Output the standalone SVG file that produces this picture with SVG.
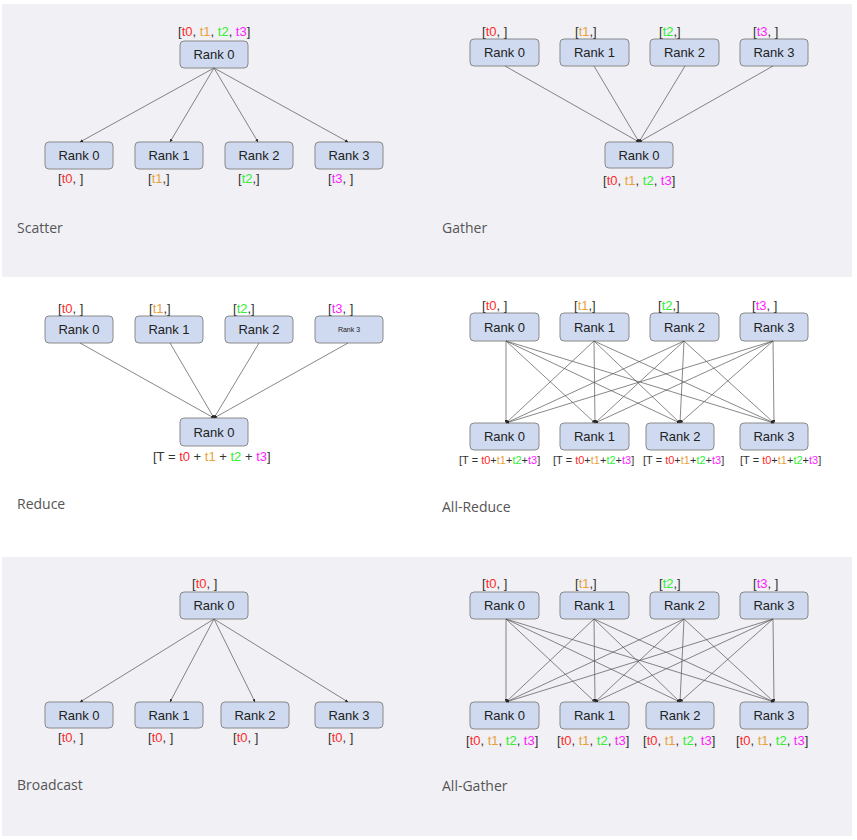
<svg xmlns="http://www.w3.org/2000/svg" width="857" height="840" viewBox="0 0 857 840">
  <defs>
    <style>
      .panel { fill: #f0f0f5; }
      .box rect { fill: #cfdaf0; stroke: #8a8a8a; stroke-width: 1; }
      .box text { font-family: "Liberation Sans", Arial, sans-serif; font-size: 13px; fill: #222; text-anchor: middle; }
      .box text.tiny { font-size: 7px; }
      .lbl { font-family: "Liberation Sans", Arial, sans-serif; font-size: 13px; fill: #333; }
      .lbl.sm { font-size: 11px; }
      .c0 { fill: #ff2b2b; }
      .c1 { fill: #e9a23b; }
      .c2 { fill: #33ee33; }
      .c3 { fill: #ff22ff; }
      .title { font-family: "Open Sans", "DejaVu Sans", sans-serif; font-size: 14px; fill: #555; }
      .edges line { stroke: #555; stroke-width: 0.7; marker-end: url(#tip); }
    </style>
    <marker id="tip" viewBox="0 0 6 6" refX="6" refY="3" markerWidth="3" markerHeight="3" markerUnits="userSpaceOnUse" orient="auto">
      <path d="M0,0 L6,3 L0,6 Z" fill="#222"/>
    </marker>
  </defs>

  <!-- section backgrounds -->
  <rect class="panel" x="2" y="4" width="850" height="273"/>
  <rect class="panel" x="2" y="557" width="850" height="279"/>

  <!-- ===================== Scatter ===================== -->
  <g id="scatter-root" class="box"><rect x="180" y="41" width="68" height="27" rx="4"/><text x="214" y="59">Rank 0</text></g>
  <g id="scatter-r0" class="box"><rect x="45" y="142" width="68" height="27" rx="4"/><text x="79" y="160">Rank 0</text></g>
  <g id="scatter-r1" class="box"><rect x="135" y="142" width="68" height="27" rx="4"/><text x="169" y="160">Rank 1</text></g>
  <g id="scatter-r2" class="box"><rect x="225" y="142" width="68" height="27" rx="4"/><text x="259" y="160">Rank 2</text></g>
  <g id="scatter-r3" class="box"><rect x="315" y="142" width="68" height="27" rx="4"/><text x="349" y="160">Rank 3</text></g>
  <text class="lbl" x="178" y="36">[<tspan class="c0">t0</tspan>, <tspan class="c1">t1</tspan>, <tspan class="c2">t2</tspan>, <tspan class="c3">t3</tspan>]</text>
  <text class="lbl" x="58" y="183">[<tspan class="c0">t0</tspan>, ]</text>
  <text class="lbl" x="148" y="183">[<tspan class="c1">t1</tspan>,]</text>
  <text class="lbl" x="238" y="183">[<tspan class="c2">t2</tspan>,]</text>
  <text class="lbl" x="328" y="183">[<tspan class="c3">t3</tspan>, ]</text>
  <text class="title" x="17" y="233">Scatter</text>

  <!-- ===================== Gather ===================== -->
  <g id="gather-r0" class="box"><rect x="470" y="39" width="69" height="27" rx="4"/><text x="504.5" y="57">Rank 0</text></g>
  <g id="gather-r1" class="box"><rect x="560" y="39" width="69" height="27" rx="4"/><text x="594.5" y="57">Rank 1</text></g>
  <g id="gather-r2" class="box"><rect x="650" y="39" width="69" height="27" rx="4"/><text x="684.5" y="57">Rank 2</text></g>
  <g id="gather-r3" class="box"><rect x="740" y="39" width="68" height="27" rx="4"/><text x="774" y="57">Rank 3</text></g>
  <g id="gather-root" class="box"><rect x="605" y="142" width="68" height="26" rx="4"/><text x="639" y="160">Rank 0</text></g>
  <text class="lbl" x="482" y="36">[<tspan class="c0">t0</tspan>, ]</text>
  <text class="lbl" x="575" y="36">[<tspan class="c1">t1</tspan>,]</text>
  <text class="lbl" x="659" y="36">[<tspan class="c2">t2</tspan>,]</text>
  <text class="lbl" x="753" y="36">[<tspan class="c3">t3</tspan>, ]</text>
  <text class="lbl" x="603" y="185">[<tspan class="c0">t0</tspan>, <tspan class="c1">t1</tspan>, <tspan class="c2">t2</tspan>, <tspan class="c3">t3</tspan>]</text>
  <text class="title" x="442" y="233">Gather</text>

  <!-- ===================== Reduce ===================== -->
  <g id="reduce-r0" class="box"><rect x="45" y="316" width="68" height="27" rx="4"/><text x="79" y="334">Rank 0</text></g>
  <g id="reduce-r1" class="box"><rect x="135" y="316" width="68" height="27" rx="4"/><text x="169" y="334">Rank 1</text></g>
  <g id="reduce-r2" class="box"><rect x="225" y="316" width="68" height="27" rx="4"/><text x="259" y="334">Rank 2</text></g>
  <g id="reduce-r3" class="box"><rect x="315" y="316" width="68" height="27" rx="4"/><text class="tiny" x="349" y="332">Rank 3</text></g>
  <g id="reduce-root" class="box"><rect x="180" y="418" width="68" height="28" rx="4"/><text x="214" y="437">Rank 0</text></g>
  <text class="lbl" x="58" y="313">[<tspan class="c0">t0</tspan>, ]</text>
  <text class="lbl" x="149" y="313">[<tspan class="c1">t1</tspan>,]</text>
  <text class="lbl" x="233" y="313">[<tspan class="c2">t2</tspan>,]</text>
  <text class="lbl" x="328" y="313">[<tspan class="c3">t3</tspan>, ]</text>
  <text class="lbl" x="153" y="461">[T = <tspan class="c0">t0</tspan> + <tspan class="c1">t1</tspan> + <tspan class="c2">t2</tspan> + <tspan class="c3">t3</tspan>]</text>
  <text class="title" x="17" y="509">Reduce</text>

  <!-- ===================== All-Reduce ===================== -->
  <g id="allreduce-t0" class="box"><rect x="470" y="313" width="69" height="28" rx="4"/><text x="504.5" y="332">Rank 0</text></g>
  <g id="allreduce-t1" class="box"><rect x="560" y="313" width="69" height="28" rx="4"/><text x="594.5" y="332">Rank 1</text></g>
  <g id="allreduce-t2" class="box"><rect x="650" y="313" width="69" height="28" rx="4"/><text x="684.5" y="332">Rank 2</text></g>
  <g id="allreduce-t3" class="box"><rect x="740" y="313" width="68" height="28" rx="4"/><text x="774" y="332">Rank 3</text></g>
  <g id="allreduce-b0" class="box"><rect x="470" y="423" width="69" height="27" rx="4"/><text x="504.5" y="441">Rank 0</text></g>
  <g id="allreduce-b1" class="box"><rect x="560" y="423" width="69" height="27" rx="4"/><text x="594.5" y="441">Rank 1</text></g>
  <g id="allreduce-b2" class="box"><rect x="646" y="423" width="68" height="27" rx="4"/><text x="680" y="441">Rank 2</text></g>
  <g id="allreduce-b3" class="box"><rect x="740" y="423" width="68" height="27" rx="4"/><text x="774" y="441">Rank 3</text></g>
  <text class="lbl" x="482" y="310">[<tspan class="c0">t0</tspan>, ]</text>
  <text class="lbl" x="574" y="310">[<tspan class="c1">t1</tspan>,]</text>
  <text class="lbl" x="658" y="310">[<tspan class="c2">t2</tspan>,]</text>
  <text class="lbl" x="752" y="310">[<tspan class="c3">t3</tspan>, ]</text>
  <text class="lbl sm" x="459" y="464">[T = <tspan class="c0">t0</tspan>+<tspan class="c1">t1</tspan>+<tspan class="c2">t2</tspan>+<tspan class="c3">t3</tspan>]</text>
  <text class="lbl sm" x="553" y="464">[T = <tspan class="c0">t0</tspan>+<tspan class="c1">t1</tspan>+<tspan class="c2">t2</tspan>+<tspan class="c3">t3</tspan>]</text>
  <text class="lbl sm" x="643" y="464">[T = <tspan class="c0">t0</tspan>+<tspan class="c1">t1</tspan>+<tspan class="c2">t2</tspan>+<tspan class="c3">t3</tspan>]</text>
  <text class="lbl sm" x="740" y="464">[T = <tspan class="c0">t0</tspan>+<tspan class="c1">t1</tspan>+<tspan class="c2">t2</tspan>+<tspan class="c3">t3</tspan>]</text>
  <text class="title" x="442" y="512">All-Reduce</text>

  <!-- ===================== Broadcast ===================== -->
  <g id="bcast-root" class="box"><rect x="180" y="592" width="68" height="27" rx="4"/><text x="214" y="610">Rank 0</text></g>
  <g id="bcast-r0" class="box"><rect x="45" y="702" width="68" height="26" rx="4"/><text x="79" y="720">Rank 0</text></g>
  <g id="bcast-r1" class="box"><rect x="135" y="702" width="68" height="26" rx="4"/><text x="169" y="720">Rank 1</text></g>
  <g id="bcast-r2" class="box"><rect x="221" y="702" width="68" height="26" rx="4"/><text x="255" y="720">Rank 2</text></g>
  <g id="bcast-r3" class="box"><rect x="315" y="702" width="68" height="26" rx="4"/><text x="349" y="720">Rank 3</text></g>
  <text class="lbl" x="192" y="588">[<tspan class="c0">t0</tspan>, ]</text>
  <text class="lbl" x="58" y="742">[<tspan class="c0">t0</tspan>, ]</text>
  <text class="lbl" x="148" y="742">[<tspan class="c0">t0</tspan>, ]</text>
  <text class="lbl" x="233" y="742">[<tspan class="c0">t0</tspan>, ]</text>
  <text class="lbl" x="328" y="742">[<tspan class="c0">t0</tspan>, ]</text>
  <text class="title" x="17" y="790">Broadcast</text>

  <!-- ===================== All-Gather ===================== -->
  <g id="allgather-t0" class="box"><rect x="470" y="592" width="69" height="27" rx="4"/><text x="504.5" y="610">Rank 0</text></g>
  <g id="allgather-t1" class="box"><rect x="560" y="592" width="69" height="27" rx="4"/><text x="594.5" y="610">Rank 1</text></g>
  <g id="allgather-t2" class="box"><rect x="650" y="592" width="69" height="27" rx="4"/><text x="684.5" y="610">Rank 2</text></g>
  <g id="allgather-t3" class="box"><rect x="740" y="592" width="68" height="27" rx="4"/><text x="774" y="610">Rank 3</text></g>
  <g id="allgather-b0" class="box"><rect x="470" y="702" width="69" height="27" rx="4"/><text x="504.5" y="720">Rank 0</text></g>
  <g id="allgather-b1" class="box"><rect x="560" y="702" width="69" height="27" rx="4"/><text x="594.5" y="720">Rank 1</text></g>
  <g id="allgather-b2" class="box"><rect x="646" y="702" width="68" height="27" rx="4"/><text x="680" y="720">Rank 2</text></g>
  <g id="allgather-b3" class="box"><rect x="740" y="702" width="68" height="27" rx="4"/><text x="774" y="720">Rank 3</text></g>
  <text class="lbl" x="482" y="588">[<tspan class="c0">t0</tspan>, ]</text>
  <text class="lbl" x="575" y="588">[<tspan class="c1">t1</tspan>,]</text>
  <text class="lbl" x="659" y="588">[<tspan class="c2">t2</tspan>,]</text>
  <text class="lbl" x="753" y="588">[<tspan class="c3">t3</tspan>, ]</text>
  <text class="lbl" x="466" y="745">[<tspan class="c0">t0</tspan>, <tspan class="c1">t1</tspan>, <tspan class="c2">t2</tspan>, <tspan class="c3">t3</tspan>]</text>
  <text class="lbl" x="557" y="745">[<tspan class="c0">t0</tspan>, <tspan class="c1">t1</tspan>, <tspan class="c2">t2</tspan>, <tspan class="c3">t3</tspan>]</text>
  <text class="lbl" x="643" y="745">[<tspan class="c0">t0</tspan>, <tspan class="c1">t1</tspan>, <tspan class="c2">t2</tspan>, <tspan class="c3">t3</tspan>]</text>
  <text class="lbl" x="736" y="745">[<tspan class="c0">t0</tspan>, <tspan class="c1">t1</tspan>, <tspan class="c2">t2</tspan>, <tspan class="c3">t3</tspan>]</text>
  <text class="title" x="442" y="791">All-Gather</text>

  <!-- ===================== connectors ===================== -->
  <g id="connectors" class="edges">
    <!-- scatter -->
    <line x1="214" y1="68" x2="80" y2="142"/>
    <line x1="214" y1="68" x2="170" y2="142"/>
    <line x1="214" y1="68" x2="258" y2="142"/>
    <line x1="214" y1="68" x2="348" y2="142"/>
    <!-- gather -->
    <line x1="505" y1="66" x2="639" y2="142"/>
    <line x1="594" y1="66" x2="639" y2="142"/>
    <line x1="685" y1="66" x2="639" y2="142"/>
    <line x1="773" y1="66" x2="639" y2="142"/>
    <!-- reduce -->
    <line x1="80" y1="343" x2="214" y2="418"/>
    <line x1="170" y1="343" x2="214" y2="418"/>
    <line x1="259" y1="343" x2="214" y2="418"/>
    <line x1="348" y1="343" x2="214" y2="418"/>
    <!-- all-reduce -->
    <line x1="506" y1="341" x2="506" y2="423"/>
    <line x1="506" y1="341" x2="595" y2="423"/>
    <line x1="506" y1="341" x2="680" y2="423"/>
    <line x1="506" y1="341" x2="774" y2="423"/>
    <line x1="594" y1="341" x2="506" y2="423"/>
    <line x1="594" y1="341" x2="595" y2="423"/>
    <line x1="594" y1="341" x2="680" y2="423"/>
    <line x1="594" y1="341" x2="774" y2="423"/>
    <line x1="684" y1="341" x2="506" y2="423"/>
    <line x1="684" y1="341" x2="595" y2="423"/>
    <line x1="684" y1="341" x2="680" y2="423"/>
    <line x1="684" y1="341" x2="774" y2="423"/>
    <line x1="773" y1="341" x2="506" y2="423"/>
    <line x1="773" y1="341" x2="595" y2="423"/>
    <line x1="773" y1="341" x2="680" y2="423"/>
    <line x1="773" y1="341" x2="774" y2="423"/>
    <!-- broadcast -->
    <line x1="214" y1="619" x2="80" y2="702"/>
    <line x1="214" y1="619" x2="170" y2="702"/>
    <line x1="214" y1="619" x2="255" y2="702"/>
    <line x1="214" y1="619" x2="348" y2="702"/>
    <!-- all-gather -->
    <line x1="506" y1="619" x2="506" y2="702"/>
    <line x1="506" y1="619" x2="595" y2="702"/>
    <line x1="506" y1="619" x2="680" y2="702"/>
    <line x1="506" y1="619" x2="774" y2="702"/>
    <line x1="594" y1="619" x2="506" y2="702"/>
    <line x1="594" y1="619" x2="595" y2="702"/>
    <line x1="594" y1="619" x2="680" y2="702"/>
    <line x1="594" y1="619" x2="774" y2="702"/>
    <line x1="684" y1="619" x2="506" y2="702"/>
    <line x1="684" y1="619" x2="595" y2="702"/>
    <line x1="684" y1="619" x2="680" y2="702"/>
    <line x1="684" y1="619" x2="774" y2="702"/>
    <line x1="773" y1="619" x2="506" y2="702"/>
    <line x1="773" y1="619" x2="595" y2="702"/>
    <line x1="773" y1="619" x2="680" y2="702"/>
    <line x1="773" y1="619" x2="774" y2="702"/>
  </g>
</svg>
